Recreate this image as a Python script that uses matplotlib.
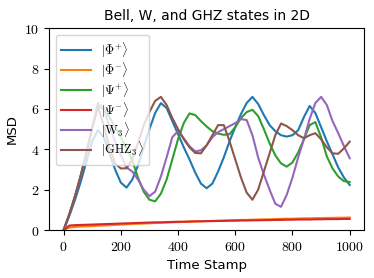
import matplotlib
matplotlib.use("Agg")
import matplotlib.pyplot as plt
import numpy as np

plt.rcParams['mathtext.fontset'] = 'cm'

t = list(range(0, 1001, 20))

phi_plus = [0, 0.7, 1.5, 2.4, 3.4, 4.4, 4.95, 4.6, 3.8, 3.0,
            2.35, 2.1, 2.5, 3.2, 4.1, 5.0, 5.8, 6.29, 6.05, 5.4,
            4.75, 4.1, 3.5, 2.85, 2.3, 2.07, 2.3, 2.9, 3.6, 4.4,
            5.1, 5.75, 6.3, 6.6, 6.25, 5.7, 5.2, 4.9, 4.7, 4.63,
            4.7, 4.95, 5.6, 6.15, 5.8, 5.1, 4.4, 3.75, 3.1, 2.6,
            2.23]
phi_minus = [0, 0.12, 0.15, 0.17, 0.18, 0.19, 0.21, 0.22, 0.24, 0.25,
             0.27, 0.28, 0.30, 0.31, 0.32, 0.33, 0.35, 0.36, 0.37, 0.38,
             0.39, 0.40, 0.41, 0.42, 0.43, 0.44, 0.45, 0.46, 0.47, 0.48,
             0.49, 0.50, 0.50, 0.51, 0.52, 0.53, 0.53, 0.54, 0.55, 0.56,
             0.56, 0.57, 0.58, 0.58, 0.59, 0.59, 0.60, 0.60, 0.61, 0.61,
             0.62]
psi_plus = [0, 0.78, 1.68, 2.7, 3.85, 5.05, 6.15, 6.0, 5.6, 5.1,
            4.6, 4.05, 3.45, 2.6, 1.9, 1.5, 1.42, 1.8, 2.5, 3.5,
            4.5, 5.3, 5.78, 5.7, 5.4, 5.13, 4.9, 4.78, 4.72, 4.75,
            5.1, 5.55, 5.85, 5.96, 5.65, 5.0, 4.3, 3.7, 3.3, 3.14,
            3.35, 3.85, 4.5, 5.2, 5.35, 4.6, 3.65, 3.05, 2.65, 2.42,
            2.38]
psi_minus = [0, 0.22, 0.24, 0.25, 0.26, 0.27, 0.28, 0.29, 0.30, 0.31,
             0.32, 0.33, 0.34, 0.35, 0.36, 0.37, 0.38, 0.38, 0.39, 0.40,
             0.41, 0.41, 0.42, 0.43, 0.43, 0.44, 0.44, 0.45, 0.45, 0.46,
             0.46, 0.47, 0.47, 0.48, 0.48, 0.49, 0.49, 0.50, 0.50, 0.51,
             0.51, 0.52, 0.52, 0.52, 0.53, 0.53, 0.54, 0.54, 0.54, 0.55,
             0.55]
w3 = [0, 0.78, 1.68, 2.7, 3.85, 5.1, 6.3, 6.0, 5.15, 4.4,
      3.7, 3.1, 2.9, 2.5, 2.0, 1.68, 1.9, 2.65, 3.6, 4.6,
      4.9, 4.55, 4.15, 3.9, 3.95, 4.2, 4.6, 4.85, 5.0, 5.15,
      5.3, 5.5, 5.45, 4.7, 3.6, 2.75, 2.0, 1.3, 1.15, 1.75,
      2.6, 3.6, 4.5, 5.5, 6.3, 6.6, 6.2, 5.4, 4.8, 4.15,
      3.56]
ghz3 = [0, 0.78, 1.68, 2.7, 3.85, 5.05, 6.1, 5.2, 4.1, 3.3,
        3.05, 3.06, 3.5, 4.3, 5.2, 5.85, 6.4, 6.6, 6.2, 5.55,
        5.0, 4.5, 4.1, 3.82, 3.8, 4.2, 4.7, 5.2, 5.2, 4.4,
        3.5, 2.6, 1.85, 1.5, 2.0, 2.9, 3.8, 4.7, 5.28, 5.15,
        4.95, 4.7, 4.55, 4.7, 4.8, 4.5, 4.1, 3.8, 3.78, 4.05,
        4.38]

labels = [r'$|\Phi^{+}\rangle$', r'$|\Phi^{-}\rangle$', r'$|\Psi^{+}\rangle$',
          r'$|\Psi^{-}\rangle$', r'$|\mathrm{W}_3\rangle$', r'$|\mathrm{GHZ}_3\rangle$']
series = [phi_plus, phi_minus, psi_plus, psi_minus, w3, ghz3]
colors = ['#1f77b4', '#ff7f0e', '#2ca02c', '#d62728', '#9467bd', '#8c564b']

fig = plt.figure(figsize=(3.74, 2.78), dpi=100)
ax = fig.add_axes([49.3/374, 1-230/278, (364-49.3)/374, (230-28.3)/278])
for s, lab, c in zip(series, labels, colors):
    ax.plot(t, s, color=c, label=lab, lw=1.5)

ax.set_xlim(-50, 1050)
ax.set_ylim(0, 10)
xt = [0, 200, 400, 600, 800, 1000]
yt = [0, 2, 4, 6, 8, 10]
ax.set_xticks(xt)
ax.set_xticklabels([f'${v}$' for v in xt], fontsize=10)
ax.set_yticks(yt)
ax.set_yticklabels([f'${v}$' for v in yt], fontsize=10)
ax.set_xlabel('Time Stamp', fontsize=9.5)
ax.set_ylabel('MSD', fontsize=9.5)
ax.set_title('Bell, W, and GHZ states in 2D', fontsize=10)
ax.legend(loc='upper left', fontsize=9, labelspacing=0.02,
          borderpad=0.45, handlelength=2.4, handletextpad=0.8)

fig.savefig('out.png', dpi=100)
